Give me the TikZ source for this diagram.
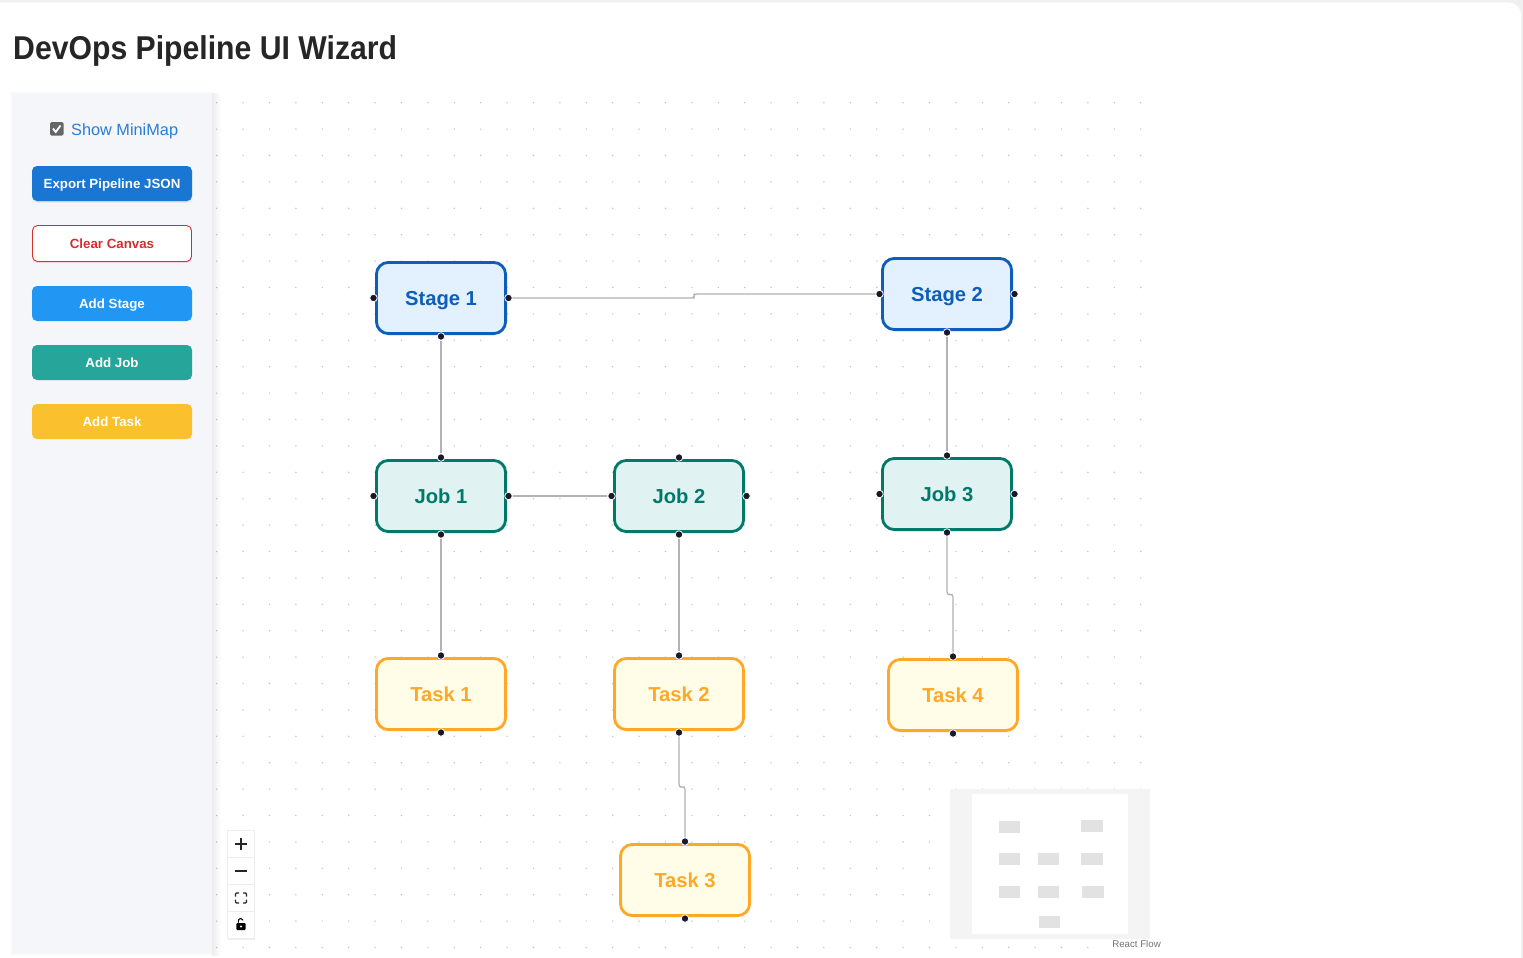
\documentclass[tikz,border=0pt]{standalone}
\usepackage{fontspec}
\setmainfont{Liberation Sans}
\newfontfamily\ttlfont[FakeStretch=0.915]{Liberation Sans}
\usetikzlibrary{positioning,calc,shadows}
\definecolor{cstage}{RGB}{13,94,186}
\definecolor{cstagef}{RGB}{227,240,254}
\definecolor{cjob}{RGB}{0,121,107}
\definecolor{cjobf}{RGB}{224,242,241}
\definecolor{ctask}{RGB}{255,167,38}
\definecolor{ctaskf}{RGB}{255,253,231}
\definecolor{cedge}{RGB}{177,177,183}
\definecolor{chandle}{RGB}{26,25,43}
\definecolor{cside}{RGB}{245,246,250}
\definecolor{cdot}{RGB}{196,196,196}
\definecolor{cmini}{RGB}{226,226,226}
\definecolor{clink}{RGB}{42,125,214}
\definecolor{cexport}{RGB}{25,118,210}
\definecolor{cclear}{RGB}{211,47,47}
\definecolor{caddstage}{RGB}{33,150,243}
\definecolor{caddjob}{RGB}{38,166,154}
\definecolor{caddtask}{RGB}{251,192,45}
\tikzset{
  flownode/.style={rounded corners=12pt, line width=2.8pt, minimum width=129.2pt,
              minimum height=71.2pt, text height=14.5pt, text depth=0pt,
              font=\fontsize{20.2}{24}\selectfont\bfseries},
  stg/.style={flownode, draw=cstage, fill=cstagef, text=cstage},
  jb/.style={flownode, draw=cjob, fill=cjobf, text=cjob},
  tsk/.style={flownode, draw=ctask, fill=ctaskf, text=ctask},
  hdl/.style={circle, fill=chandle, draw=white, line width=0.8pt, inner sep=0pt, minimum size=7.5pt},
  edg/.style={cedge, line width=1.2pt, rounded corners=2.5pt},
  btn/.style={rounded corners=5pt, minimum width=160pt, minimum height=35pt, text height=9.5pt, text depth=0pt,
              font=\fontsize{13.3}{16}\selectfont\bfseries, text=white},
  ctl/.style={draw=black!7, fill=white, minimum size=27pt, inner sep=0pt, outer sep=0pt,
              drop shadow={shadow xshift=0pt, shadow yshift=-1pt, opacity=0.12}},
  mm/.style={fill=cmini, inner sep=0pt, minimum width=21.5pt, minimum height=12pt},
}
\begin{document}
\begin{tikzpicture}[x=1pt, y=-1pt]
  \useasboundingbox (0,0) rectangle (1523,958);
  % page card
  \fill[black!6] (0,0) rectangle (1523,958);
  \fill[white, rounded corners=12pt] (-20,2.5) rectangle (1521,990);
  \node[anchor=base west, inner sep=0pt, text=black!85, font=\fontsize{33}{36}\selectfont\ttlfont\bfseries] (title) at (13,59.5) {DevOps Pipeline UI Wizard};
  % dots
  \foreach \px in {216.7,243.1,...,1141} {
    \foreach \py in {102.7,129.1,...,948} {
      \fill[cdot] (\px,\py) circle (0.8pt);
    }
  }
  % sidebar
  \foreach \i in {1,...,9} {
    \fill[black, opacity=0.008] (212,93) rectangle (212+\i,954+\i/3);
  }
  \foreach \i in {1,2} {
    \fill[black, opacity=0.006] (12-\i,93-\i) rectangle (212,954+\i);
  }
  \fill[cside] (12,93) rectangle (212,954);
  \fill[gray!80!black, rounded corners=1.5pt] (50,122) rectangle (63.5,135.5);
  \draw[white, line width=1.8pt] (53,128.5) -- (55.8,132) -- (60.5,125.5);
  \node[anchor=base west, inner sep=0pt, text=clink, font=\fontsize{16.3}{20}\selectfont] (show) at (71,135) {Show MiniMap};
  \node[btn, fill=cexport, drop shadow={shadow xshift=0pt, shadow yshift=-1.5pt, opacity=0.18}] (export) at (112,183.5) {Export Pipeline JSON};
  \node[btn, draw=cclear, fill=white, text=cclear, minimum width=159pt, minimum height=36pt, line width=0.9pt, drop shadow={shadow xshift=0pt, shadow yshift=-1.5pt, opacity=0.18, fill=red!70}] (clear) at (112,243.5) {Clear Canvas};
  \node[btn, fill=caddstage] (addstage) at (112,303.5) {Add Stage};
  \node[btn, fill=caddjob] (addjob) at (112,362.5) {Add Job};
  \node[btn, fill=caddtask] (addtask) at (112,421.5) {Add Task};
  % flow nodes
  \node[stg] (s1) at (441,298) {Stage 1};
  \node[stg] (s2) at (947,294) {Stage 2};
  \node[jb] (j1) at (441,496) {Job 1};
  \node[jb] (j2) at (679,496) {Job 2};
  \node[jb] (j3) at (947,494) {Job 3};
  \node[tsk] (t1) at (441,694) {Task 1};
  \node[tsk] (t2) at (679,694) {Task 2};
  \node[tsk] (t3) at (685,880) {Task 3};
  \node[tsk] (t4) at (953,695) {Task 4};
  % handles
  \foreach \n in {s1,s2,j1,j2,j3} {
    \node[hdl] (\n l) at ([xshift=-1.5pt]\n.west) {};
    \node[hdl] (\n r) at ([xshift=1.5pt]\n.east) {};
  }
  \foreach \n in {j1,j2,j3,t1,t2,t3,t4} {
    \node[hdl] (\n t) at ([yshift=1.5pt]\n.north) {};
  }
  \foreach \n in {s1,s2,j1,j2,j3,t1,t2,t3,t4} {
    \node[hdl] (\n b) at ([yshift=-1.5pt]\n.south) {};
  }
  % edges
  \foreach \a/\b in {s1b/j1t,s2b/j3t,j1r/j2l,j1b/t1t,j2b/t2t} {
    \draw[edg] (\a) -- (\b);
  }
  \coordinate (m1) at ($(s1r)!.5!(s2l)$);
  \draw[edg] (s1r) -| (m1) |- (s2l);
  \foreach \a/\b in {j3b/t4t,t2b/t3t} {
    \coordinate (m) at ($(\a)!.5!(\b)$);
    \draw[edg] (\a) |- (m) -| (\b);
  }
  % controls
  \node[ctl] (zin) at (241,844) {};
  \node[ctl, below=0pt of zin] (zout) {};
  \node[ctl, below=0pt of zout] (zfit) {};
  \node[ctl, below=0pt of zfit] (zlock) {};
  \draw[black!85, line width=1.6pt] ($(zin)+(-6,0)$) -- ($(zin)+(6,0)$) ($(zin)+(0,-6)$) -- ($(zin)+(0,6)$);
  \draw[black!85, line width=1.6pt] ($(zout)+(-6,0)$) -- ($(zout)+(6,0)$);
  \foreach \sx/\sy in {1/1,1/-1,-1/1,-1/-1} {
    \draw[black!85, line width=1.3pt, rounded corners=1pt] ($(zfit)+(\sx*5.5,\sy*1.5)$) -- ($(zfit)+(\sx*5.5,\sy*5)$) -- ($(zfit)+(\sx*2,\sy*5)$);
  }
  \fill[black, rounded corners=1pt] ($(zlock)+(-4.7,-2)$) rectangle ($(zlock)+(4.7,5)$);
  \draw[black, line width=1.1pt] ($(zlock)+(-2.7,-2.5)$) -- ($(zlock)+(-2.7,-4)$) arc[start angle=180, end angle=20, radius=2.5pt];
  \fill[white] ($(zlock)+(0,1.5)$) circle (1.2pt);
  % minimap
  \fill[black!4.5] (950,789) rectangle (1150,939);
  \fill[white] (972,794) rectangle (1128,934);
  \foreach \mx/\my/\mn in {1009.5/827/ms1,1092/826/ms2,1009.5/859/mj1,1048.5/859/mj2,1092/859/mj3,1009.5/892/mt1,1048.5/892/mt2,1093/892/mt4,1049.5/922/mt3} {
    \node[mm] (\mn) at (\mx,\my) {};
  }
  \node[fill=white, fill opacity=0.8, text opacity=1, text=black!55, inner xsep=3pt, inner ysep=1.5pt, font=\fontsize{9.7}{11}\selectfont] (rf) at (1136.5,944.5) {React Flow};
\end{tikzpicture}
\end{document}
